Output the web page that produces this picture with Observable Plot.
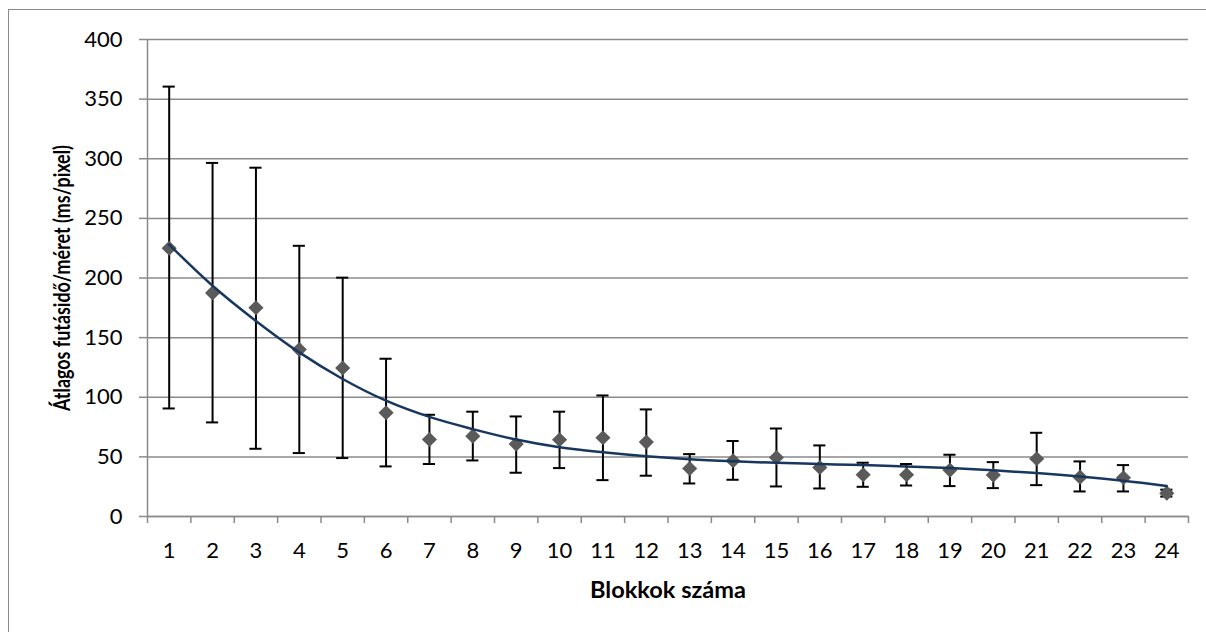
<!DOCTYPE html>
<html>
<head>
<meta charset="utf-8">
<script src="https://cdn.jsdelivr.net/npm/d3@7"></script>
<script src="https://cdn.jsdelivr.net/npm/@observablehq/plot@0.6"></script>
<style>
  html, body { margin: 0; padding: 0; background: #fff; overflow: hidden; }
  #wrap { position: relative; width: 1206px; height: 632px; }
  #border { position: absolute; left: 8px; top: 9px; width: 1400px; height: 800px;
            border-left: 1.5px solid #8a8a8a; border-top: 1.5px solid #8a8a8a; pointer-events: none; }
</style>
</head>
<body>
<div id="wrap"><div id="border"></div></div>
<script>
// Data
const blocks = [1,2,3,4,5,6,7,8,9,10,11,12,13,14,15,16,17,18,19,20,21,22,23,24];
const means  = [225, 187.5, 175, 140, 124.5, 87, 64.6, 67.4, 60.7, 64.4, 66, 62.4, 40.3, 46.7, 49.5, 41.1, 35, 35, 38.9, 34.7, 48.4, 33, 32.5, 19.6];
const upper  = [360.5, 296.5, 292.5, 227, 200.3, 132.3, 85.3, 87.9, 83.9, 87.9, 101.5, 89.8, 52.3, 63.3, 73.8, 59.6, 45.1, 44, 51.8, 45.6, 70.2, 46.2, 43.1, 22.5];
const lower  = [90.6, 78.9, 56.8, 53.2, 49, 42, 44, 47, 36.7, 40.6, 30.5, 34.2, 27.7, 30.8, 25.2, 23.5, 24.9, 26, 25.5, 23.8, 26.3, 21, 21, 16.7];
const trend  = [228, 193.5, 164, 137.6, 115.3, 97.1, 83.5, 73.3, 64.5, 58, 53.8, 50.5, 48, 46.3, 45, 44, 43.1, 42, 40.6, 38.7, 36.4, 33.5, 29.9, 25.5];
const yTicks = [0, 50, 100, 150, 200, 250, 300, 350, 400];
const xTitle = "Blokkok száma";
const yTitle = "Átlagos futásidő/méret (ms/pixel)";

const rows = blocks.map((b, i) => ({b, mean: means[i], hi: upper[i], lo: lower[i], trend: trend[i]}));
const boundaries = [blocks[0] - 0.5, ...blocks.map(b => b + 0.5)];
const capHalf = 0.14;
const grid = "#8a8a8a";

const chart = Plot.plot({
  width: 1206,
  height: 632,
  marginLeft: 147,
  marginRight: 18,
  marginTop: 39,
  marginBottom: 116,
  style: {fontFamily: "Lato, 'Open Sans', sans-serif", fontSize: "22px", color: "black", background: "transparent"},
  x: {type: "linear", domain: [0.5, 24.5]},
  y: {domain: [0, 400]},
  marks: [
    Plot.gridY(yTicks, {stroke: grid, strokeOpacity: 1, strokeWidth: 1.5}),
    Plot.ruleX([0.5], {stroke: grid, strokeWidth: 1.5}),
    Plot.ruleY([0], {stroke: grid, strokeWidth: 1.5}),
    Plot.axisY({ticks: yTicks, tickSize: 8, tickPadding: 17, stroke: grid, strokeWidth: 1.5, label: null, fontSize: 22}),
    Plot.axisX({ticks: boundaries, tickSize: 7, stroke: grid, strokeWidth: 1.5, tickFormat: () => "", label: null}),
    Plot.axisX({ticks: blocks, tickSize: 0, tickPadding: 26, tickFormat: d => String(d), label: null, fontSize: 22}),
    Plot.ruleX(rows, {x: "b", y1: "lo", y2: "hi", stroke: "black", strokeWidth: 2}),
    Plot.ruleY(rows, {y: "hi", x1: d => d.b - capHalf, x2: d => d.b + capHalf, stroke: "black", strokeWidth: 2}),
    Plot.ruleY(rows, {y: "lo", x1: d => d.b - capHalf, x2: d => d.b + capHalf, stroke: "black", strokeWidth: 2}),
    Plot.dot(rows, {x: "b", y: "mean", symbol: "diamond2", r: 6.8, fill: "#5a5a5a", stroke: "none"}),
    Plot.line(rows, {x: "b", y: "trend", stroke: "#17375E", strokeWidth: 2.5, curve: "monotone-x"}),
    Plot.text([yTitle], {className: "ytitle", frameAnchor: "left", dx: -85, rotate: -90, textAnchor: "middle", fontWeight: "bold", fontSize: 22, fill: "black"}),
    Plot.text([xTitle], {className: "xtitle", frameAnchor: "bottom", dy: 74, textAnchor: "middle", lineAnchor: "middle", fontWeight: "bold", fontSize: 22, fill: "black"})
  ]
});
// fit the narrow (Calibri-like) title widths seen in the reference
d3.select(chart).selectAll(".ytitle text").attr("textLength", 266).attr("lengthAdjust", "spacingAndGlyphs");
d3.select(chart).selectAll(".xtitle text").attr("textLength", 156).attr("lengthAdjust", "spacingAndGlyphs");
document.getElementById("wrap").prepend(chart);
</script>
</body>
</html>
